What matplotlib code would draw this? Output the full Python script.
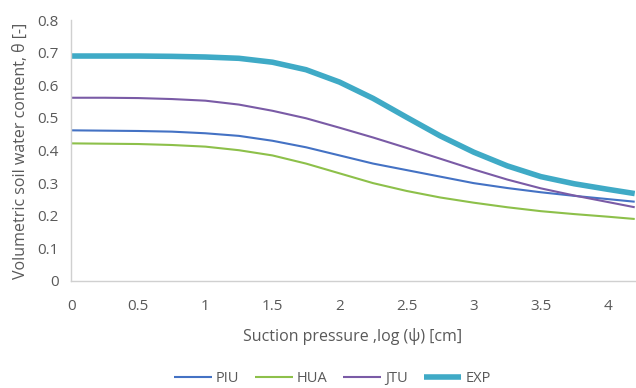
import matplotlib
matplotlib.use("Agg")
import matplotlib.pyplot as plt

# suction pressure log(psi) [cm]
x = [0, 0.25, 0.5, 0.75, 1.0, 1.25, 1.5, 1.75, 2.0, 2.25, 2.5, 2.75, 3.0, 3.25, 3.5, 3.75, 4.0, 4.2]

piu = [0.462, 0.461, 0.460, 0.458, 0.453, 0.445, 0.430, 0.410, 0.385, 0.360, 0.340, 0.320, 0.300, 0.285, 0.272, 0.261, 0.251, 0.243]
hua = [0.422, 0.421, 0.420, 0.417, 0.412, 0.401, 0.385, 0.360, 0.330, 0.300, 0.276, 0.256, 0.240, 0.226, 0.214, 0.205, 0.197, 0.190]
jtu = [0.562, 0.562, 0.561, 0.558, 0.553, 0.541, 0.522, 0.499, 0.470, 0.440, 0.408, 0.375, 0.342, 0.311, 0.284, 0.262, 0.242, 0.226]
exp = [0.690, 0.690, 0.690, 0.689, 0.687, 0.683, 0.671, 0.648, 0.610, 0.560, 0.502, 0.445, 0.395, 0.353, 0.320, 0.298, 0.281, 0.268]

names = ["PIU", "HUA", "JTU", "EXP"]
colors = ["#4472C4", "#8DC04A", "#7A5BA6", "#3FAAC6"]
widths = [1.5, 1.5, 1.5, 4.0]

plt.rcParams['font.family'] = ['Open Sans', 'DejaVu Sans']
fig, ax = plt.subplots(figsize=(6.36, 3.88), dpi=100)
fig.subplots_adjust(left=0.112, right=0.998, top=0.948, bottom=0.276)

for y, n, c, w in zip([piu, hua, jtu, exp], names, colors, widths):
    ax.plot(x, y, color=c, lw=w, label=n, solid_capstyle='butt', solid_joinstyle='round')

ax.set_xlim(0, 4.2)
ax.set_ylim(0, 0.8)
ax.set_xticks([0, 0.5, 1, 1.5, 2, 2.5, 3, 3.5, 4])
ax.set_xticklabels(["0", "0.5", "1", "1.5", "2", "2.5", "3", "3.5", "4"])
ax.set_yticks([0, 0.1, 0.2, 0.3, 0.4, 0.5, 0.6, 0.7, 0.8])
ax.set_yticklabels(["0", "0.1", "0.2", "0.3", "0.4", "0.5", "0.6", "0.7", "0.8"])

for s in ["top", "right"]:
    ax.spines[s].set_visible(False)
for s in ["left", "bottom"]:
    ax.spines[s].set_color("#D0D0D0")
    ax.spines[s].set_linewidth(1.0)
ax.tick_params(axis="x", length=0, labelsize=11, labelcolor="#595959", pad=13)
ax.tick_params(axis="y", length=0, labelsize=11, labelcolor="#595959", pad=9)

ax.set_xlabel("Suction pressure ,log (\u03c8) [cm]", fontsize=11.5, color="#595959", labelpad=10)
ax.set_ylabel("Volumetric soil water content, \u03b8 [-]", fontsize=11.5, color="#595959", labelpad=6)

leg = ax.legend(loc="center", bbox_to_anchor=(0.463, -0.375), ncol=4, frameon=False,
                fontsize=10.5, handlelength=2.6, columnspacing=1.1, handletextpad=0.25,
                borderpad=0.2)
for t in leg.get_texts():
    t.set_color("#595959")

fig.savefig("out.png", dpi=100)
